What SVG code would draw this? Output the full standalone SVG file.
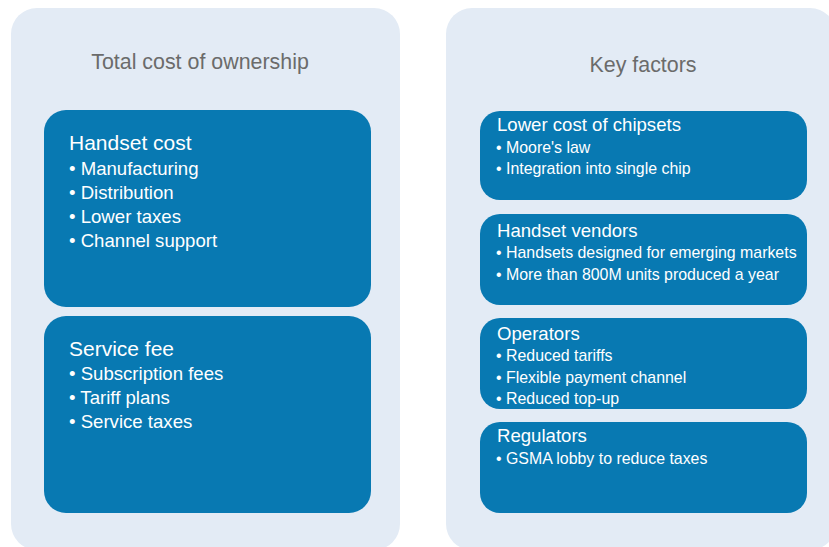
<svg xmlns="http://www.w3.org/2000/svg" width="829" height="547" viewBox="0 0 829 547">
  <style>
    .panel { fill: #e3ebf5; }
    .box { fill: #0879b2; }
    .title { font-family: "Liberation Sans", Arial, sans-serif; font-size: 21.4px; fill: #6b6b6b; text-anchor: middle; }
    .head { font-family: "Liberation Sans", Arial, sans-serif; fill: #ffffff; }
    .item { font-family: "Liberation Sans", Arial, sans-serif; fill: #ffffff; }
    .l .head { font-size: 21px; }
    .l .item { font-size: 18.6px; }
    .r .head { font-size: 18.6px; }
    .r .item { font-size: 15.9px; }
  </style>
  <rect width="829" height="547" fill="#ffffff"/>

  <!-- Left column: total cost of ownership -->
  <g id="tco" class="l">
    <rect class="panel" x="11" y="8" width="389" height="542" rx="26"/>
    <text class="title" x="200" y="69">Total cost of ownership</text>
    <g id="handset-cost">
      <rect class="box" x="44" y="110" width="327" height="197" rx="22"/>
      <text class="head" x="69" y="150">Handset cost</text>
      <text class="item" x="69" y="175">• Manufacturing</text>
      <text class="item" x="69" y="199">• Distribution</text>
      <text class="item" x="69" y="223">• Lower taxes</text>
      <text class="item" x="69" y="247">• Channel support</text>
    </g>
    <g id="service-fee">
      <rect class="box" x="44" y="316" width="327" height="197" rx="22"/>
      <text class="head" x="69" y="356">Service fee</text>
      <text class="item" x="69" y="380">• Subscription fees</text>
      <text class="item" x="69" y="404">• Tariff plans</text>
      <text class="item" x="69" y="428">• Service taxes</text>
    </g>
  </g>

  <!-- Right column: key factors -->
  <g id="key-factors" class="r">
    <rect class="panel" x="446" y="8" width="390" height="542" rx="26"/>
    <text class="title" x="643" y="72">Key factors</text>
    <g id="chipsets">
      <rect class="box" x="480" y="111" width="327" height="89" rx="20"/>
      <text class="head" x="497" y="131">Lower cost of chipsets</text>
      <text class="item" x="496" y="153">• Moore's law</text>
      <text class="item" x="496" y="174">• Integration into single chip</text>
    </g>
    <g id="vendors">
      <rect class="box" x="480" y="214" width="327" height="91" rx="20"/>
      <text class="head" x="497" y="237">Handset vendors</text>
      <text class="item" x="496" y="258">• Handsets designed for emerging markets</text>
      <text class="item" x="496" y="280">• More than 800M units produced a year</text>
    </g>
    <g id="operators">
      <rect class="box" x="480" y="318" width="327" height="91" rx="20"/>
      <text class="head" x="497" y="340">Operators</text>
      <text class="item" x="496" y="361">• Reduced tariffs</text>
      <text class="item" x="496" y="383">• Flexible payment channel</text>
      <text class="item" x="496" y="404">• Reduced top-up</text>
    </g>
    <g id="regulators">
      <rect class="box" x="480" y="422" width="327" height="91" rx="20"/>
      <text class="head" x="497" y="442">Regulators</text>
      <text class="item" x="496" y="464">• GSMA lobby to reduce taxes</text>
    </g>
  </g>

  <!-- No connectors in this layout -->
  <g id="connectors"/>
</svg>
